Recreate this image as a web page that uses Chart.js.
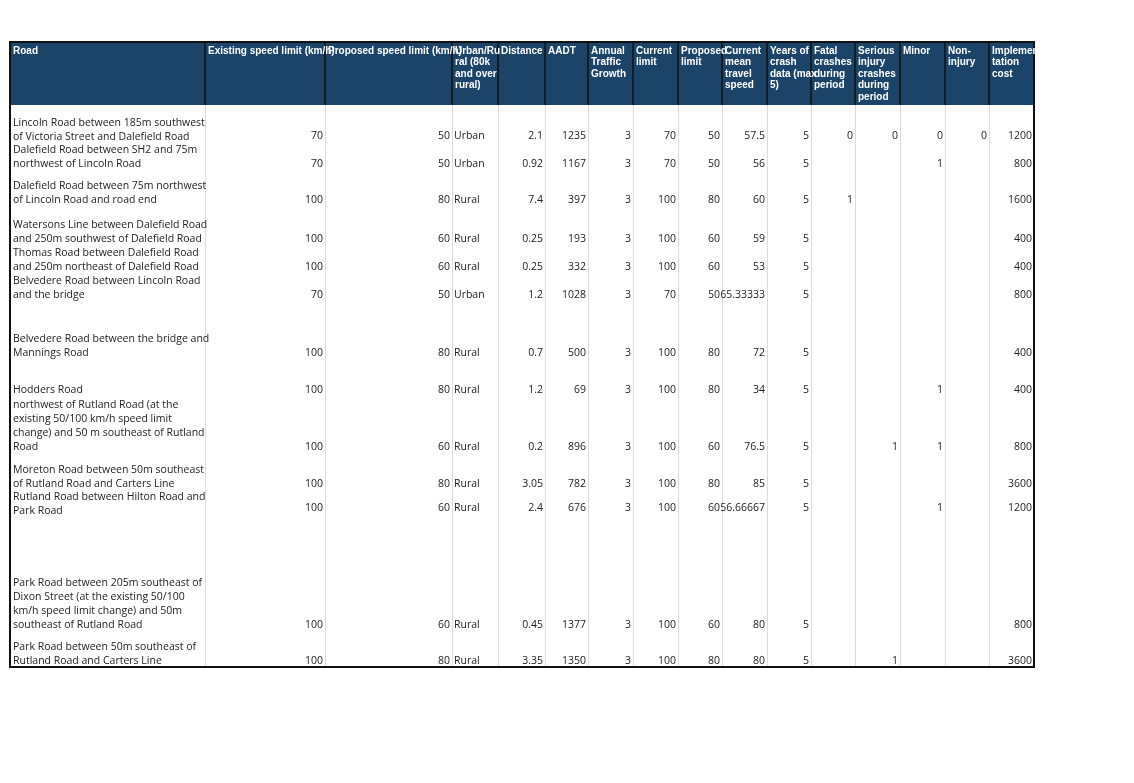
<!DOCTYPE html>
<html><head><meta charset="utf-8">
<script src="https://cdn.jsdelivr.net/npm/chart.js@4/dist/chart.umd.min.js"></script>
<style>html,body{margin:0;background:#fff}#wrap{width:1134px;height:783px}</style>
</head><body><div id="wrap"><canvas id="tbl"></canvas></div>
<script>
// column headers (lines)
var headers = [
  ['Road'], ['Existing speed limit (km/h)'], ['Proposed speed limit (km/h)'],
  ['Urban/Ru','ral (80k','and over','rural)'], ['Distance'], ['AADT'],
  ['Annual','Traffic','Growth'], ['Current','limit'], ['Proposed','limit'],
  ['Current','mean','travel','speed'], ['Years of','crash','data (max','5)'],
  ['Fatal','crashes','during','period'], ['Serious','injury','crashes','during','period'],
  ['Minor'], ['Non-','injury'], ['Implemen','tation','cost']
];
var roadText = [
  ['Lincoln Road between 185m southwest','of Victoria Street and Dalefield Road'],
  ['Dalefield Road between SH2 and 75m','northwest of Lincoln Road'],
  ['Dalefield Road between 75m northwest','of Lincoln Road and road end'],
  ['Watersons Line between Dalefield Road','and 250m southwest of Dalefield Road'],
  ['Thomas Road between Dalefield Road','and 250m northeast of Dalefield Road'],
  ['Belvedere Road between Lincoln Road','and the bridge'],
  ['Belvedere Road between the bridge and','Mannings Road'],
  ['Hodders Road'],
  ['northwest of Rutland Road (at the','existing 50/100 km/h speed limit','change) and 50 m southeast of Rutland','Road'],
  ['Moreton Road between 50m southeast','of Rutland Road and Carters Line'],
  ['Rutland Road between Hilton Road and','Park Road'],
  ['Park Road between 205m southeast of','Dixon Street (at the existing 50/100','km/h speed limit change) and 50m','southeast of Rutland Road'],
  ['Park Road between 50m southeast of','Rutland Road and Carters Line']
];
var existing = [70,70,100,100,100,70,100,100,100,100,100,100,100];
var proposed = [50,50,80,60,60,50,80,80,60,80,60,60,80];
var urbanRural = ['Urban','Urban','Rural','Rural','Rural','Urban','Rural','Rural','Rural','Rural','Rural','Rural','Rural'];
var distance = ['2.1','0.92','7.4','0.25','0.25','1.2','0.7','1.2','0.2','3.05','2.4','0.45','3.35'];
var aadt = [1235,1167,397,193,332,1028,500,69,896,782,676,1377,1350];
var growth = [3,3,3,3,3,3,3,3,3,3,3,3,3];
var currentLimit = [70,70,100,100,100,70,100,100,100,100,100,100,100];
var proposedLimit = [50,50,80,60,60,50,80,80,60,80,60,60,80];
var meanSpeed = ['57.5','56','60','59','53','65.33333','72','34','76.5','85','56.66667','80','80'];
var years = [5,5,5,5,5,5,5,5,5,5,5,5,5];
var fatal = ['0','','1','','','','','','','','','',''];
var serious = ['0','','','','','','','','1','','','','1'];
var minor = ['0','1','','','','','','1','1','','1','',''];
var nonInjury = ['0','','','','','','','','','','','',''];
var cost = [1200,800,1600,400,400,800,400,400,800,3600,1200,800,3600];

// layout (pixels in a 1134x783 value space)
var colEdges = [10,205,325,452,498,545,588,633,678,722,767,811,855,900,945,989,1034];
var headTop = 42, headBottom = 105, tableBottom = 667;
var firstLineY = [123,150,186,225,253,281,339,390,405,470,497,583,647];
var lineH = 14;
var valueY = [136,164,200,239,267,295,353,390,447,484,508,625,661];

var tablePlugin = {
  id: 'tablePlugin',
  afterDraw: function (chart) {
    var c = chart.ctx, xs = chart.scales.x, ys = chart.scales.y;
    var X = function (v) { return xs.getPixelForValue(v); };
    var Y = function (v) { return ys.getPixelForValue(v); };
    c.save();
    c.fillStyle = '#1b4468';
    c.fillRect(X(colEdges[0]), Y(headTop), X(colEdges[16]) - X(colEdges[0]), Y(headBottom) - Y(headTop));
    c.strokeStyle = '#dcdcdc'; c.lineWidth = 1;
    colEdges.slice(1, 16).forEach(function (e) {
      c.beginPath(); c.moveTo(X(e) + 0.5, Y(headBottom)); c.lineTo(X(e) + 0.5, Y(tableBottom)); c.stroke();
    });
    c.strokeStyle = '#111'; c.lineWidth = 1.5;
    colEdges.slice(1, 16).forEach(function (e) {
      c.beginPath(); c.moveTo(X(e), Y(headTop)); c.lineTo(X(e), Y(headBottom)); c.stroke();
    });
    c.lineWidth = 2;
    c.strokeRect(X(colEdges[0]), Y(headTop), X(colEdges[16]) - X(colEdges[0]), Y(tableBottom) - Y(headTop));
    // header text
    c.fillStyle = '#fff'; c.font = 'bold 10px "Liberation Sans", Arial'; c.textBaseline = 'middle'; c.textAlign = 'left';
    headers.forEach(function (lines, i) {
      lines.forEach(function (t, k) { c.fillText(t, X(colEdges[i]) + 3, Y(headTop + 9 + k * 11.5)); });
    });
    // body text
    c.fillStyle = '#222'; c.font = '10.5px "Open Sans", "Liberation Sans", sans-serif';
    roadText.forEach(function (lines, r) {
      lines.forEach(function (t, k) { c.fillText(t, X(colEdges[0]) + 3, Y(firstLineY[r] + k * lineH)); });
    });
    var cols = [existing, proposed, null, distance, aadt, growth, currentLimit, proposedLimit, meanSpeed, years, fatal, serious, minor, nonInjury, cost];
    for (var r = 0; r < valueY.length; r++) {
      cols.forEach(function (arr, j) {
        var ci = j + 1;
        if (arr === null) {
          c.textAlign = 'left';
          c.fillText(urbanRural[r], X(colEdges[ci]) + 2, Y(valueY[r]));
        } else {
          var v = String(arr[r]);
          if (v === '') return;
          c.textAlign = 'right';
          c.fillText(v, X(colEdges[ci + 1]) - 2, Y(valueY[r]));
        }
      });
    }
    c.restore();
  }
};

new Chart(document.getElementById('tbl'), {
  type: 'scatter',
  data: { datasets: [{ data: [], pointRadius: 0 }] },
  options: {
    responsive: true, maintainAspectRatio: false, animation: false,
    layout: { padding: 0 },
    plugins: { legend: { display: false }, tooltip: { enabled: false } },
    scales: {
      x: { type: 'linear', min: 0, max: 1134, display: false },
      y: { type: 'linear', min: 0, max: 783, reverse: true, display: false }
    }
  },
  plugins: [tablePlugin]
});
</script></body></html>
